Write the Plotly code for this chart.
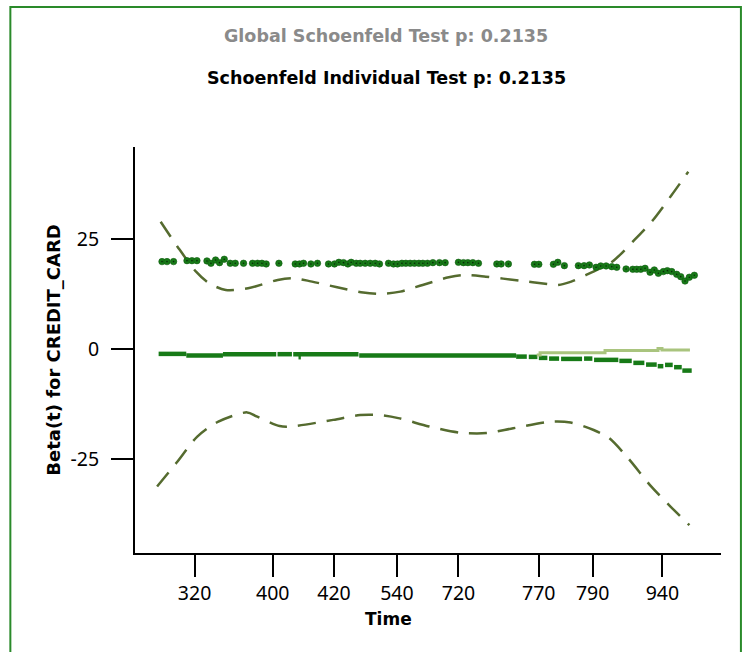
import plotly.graph_objects as go

# Transformed time scale (0-100) and the event times labelled along it
tick_pos = [10.17, 23.5, 33.96, 44.7, 55.2, 68.9, 78.1, 90.0]
tick_labels = ["320", "400", "420", "540", "720", "770", "790", "940"]

# Scaled Schoenfeld residuals for CREDIT_CARD
resid_t = [4.61, 5.46, 6.58, 8.87, 9.72, 10.57, 12.28, 12.96, 13.75, 14.43,
           15.23, 16.25, 17.11, 18.52, 20.06, 20.91, 21.66, 22.39, 24.56, 27.34,
           28.07, 28.76, 30.02, 31.14, 33.02, 34.04, 34.79, 35.58, 36.33, 36.89,
           37.75, 38.43, 39.28, 40.14, 40.99, 41.72, 43.26, 44.11, 44.79, 45.54,
           46.22, 46.96, 47.69, 48.44, 49.12, 49.91, 50.83, 51.95, 52.93, 55.19,
           56.05, 56.80, 57.65, 58.61, 61.74, 62.48, 63.72, 68.16, 68.91, 71.40,
           72.15, 73.27, 75.66, 76.63, 77.54, 78.68, 79.48, 80.39, 81.36, 82.21,
           83.80, 84.94, 85.62, 86.31, 87.04, 87.89, 88.62, 89.31, 90.16, 90.84,
           91.59, 92.44, 93.13, 93.86, 94.59, 95.45]
resid_beta = [19.80, 19.80, 19.80, 20.02, 20.02, 20.02, 19.95, 19.42, 20.17, 19.57,
              20.33, 19.42, 19.42, 19.42, 19.42, 19.42, 19.42, 19.27, 19.42, 19.27,
              19.27, 19.42, 19.27, 19.42, 19.27, 19.27, 19.64, 19.57, 19.27, 19.64,
              19.42, 19.42, 19.42, 19.42, 19.42, 19.27, 19.42, 19.27, 19.27, 19.42,
              19.42, 19.42, 19.42, 19.42, 19.42, 19.42, 19.57, 19.57, 19.57, 19.64,
              19.57, 19.57, 19.57, 19.42, 19.27, 19.27, 19.27, 19.19, 19.19, 19.19,
              19.64, 18.89, 18.89, 18.89, 19.04, 18.51, 18.82, 18.82, 18.66, 18.51,
              18.13, 18.06, 18.06, 18.06, 18.28, 17.38, 17.91, 17.15, 17.53, 17.75,
              17.53, 16.92, 16.39, 15.41, 16.25, 16.70]

# Upper and lower confidence bands of the smoothed beta(t)
upper_t = [4.38, 7.25, 10.42, 12.64, 15.49, 19.29, 24.36, 26.90, 29.44, 34.50,
           38.94, 42.11, 45.28, 49.09, 53.54, 56.06, 59.87, 65.58, 70.65, 72.23,
           74.45, 76.99, 81.43, 85.23, 88.40, 91.58, 94.42]
upper_beta = [28.85, 23.19, 17.52, 14.89, 13.37, 13.75, 15.64, 16.02, 15.49, 13.98,
              12.77, 12.47, 12.99, 14.51, 16.25, 16.77, 16.39, 15.49, 14.66, 14.51,
              15.27, 16.77, 19.79, 24.71, 29.24, 34.91, 40.19]
lower_t = [3.77, 7.04, 10.63, 14.22, 19.14, 20.76, 24.68, 26.64, 33.82, 38.41,
           41.67, 44.94, 50.18, 55.40, 59.97, 64.54, 71.09, 74.35, 78.27, 80.88,
           84.15, 88.08, 91.34, 94.61]
lower_beta = [-31.2, -25.9, -19.9, -16.5, -14.4, -15.3, -17.5, -17.6, -16.1, -15.0,
              -15.0, -15.7, -17.6, -19.0, -19.1, -18.0, -16.5, -16.7, -18.4, -20.2,
              -24.8, -31.2, -35.7, -40.0]

# Fitted beta(t), as piecewise-constant segments
fit_start = [4.03, 8.75, 15.01, 24.32, 27.00, 27.90, 38.26, 65.04, 67.20, 68.91,
             70.66, 72.71, 76.63, 78.34, 82.65, 85.04, 87.21, 89.20, 90.45, 91.99,
             93.40]
fit_end = [8.75, 15.01, 24.10, 26.78, 38.14, 28.30, 65.04, 66.86, 68.67, 70.37,
           72.37, 76.29, 78.05, 82.48, 84.77, 86.92, 89.03, 90.16, 91.76, 93.30,
           95.00]
fit_beta = [-1.13, -1.52, -1.20, -1.20, -1.20, -1.88, -1.52, -1.75, -1.81, -2.04,
            -2.20, -2.27, -2.20, -2.49, -2.72, -3.17, -3.56, -3.92, -3.63, -4.15,
            -4.92]

# Alternative estimate over late follow-up (step function)
alt_t = [68.56, 69.13, 80.21, 89.25, 89.93, 94.70]
alt_beta = [-1.36, -0.90, -0.39, 0.07, -0.23, -0.23]

FONT = "Noto Sans"
BOLD_FONT = "DejaVu Sans"
BAND = "#556b2f"
GREEN = "#177a17"

fig = go.Figure()

for t, b in ((upper_t, upper_beta), (lower_t, lower_beta)):
    fig.add_trace(go.Scatter(
        x=t, y=b, mode="lines",
        line=dict(color=BAND, width=2.5, dash="18px,11px", shape="spline", smoothing=0.8),
        hoverinfo="skip", showlegend=False))

seg_x, seg_y = [], []
for s, e, v in zip(fit_start, fit_end, fit_beta):
    seg_x += [s, e, None]
    seg_y += [v, v, None]
fig.add_trace(go.Scatter(x=seg_x, y=seg_y, mode="lines",
                         line=dict(color=GREEN, width=4.5),
                         showlegend=False))

fig.add_trace(go.Scatter(x=alt_t, y=alt_beta, mode="lines",
                         line=dict(color="#a9c47e", width=3, shape="hv"),
                         showlegend=False))

fig.add_trace(go.Scatter(x=resid_t, y=resid_beta, mode="markers",
                         marker=dict(color=GREEN, size=6.5,
                                     line=dict(color="#0f5c0f", width=0.6)),
                         showlegend=False))
fig.add_trace(go.Scatter(x=resid_t, y=resid_beta, mode="markers",
                         marker=dict(color="#0a2a0a", size=1.6),
                         hoverinfo="skip", showlegend=False))

axis_common = dict(
    showline=True, linecolor="black", linewidth=2,
    ticks="outside", ticklen=22, tickwidth=1.5, tickcolor="black",
    showgrid=False, zeroline=False,
    tickfont=dict(family=FONT, size=19.5, color="black"),
)

fig.update_layout(
    width=751, height=652,
    margin=dict(l=135, r=30, t=147, b=99),
    paper_bgcolor="white", plot_bgcolor="white",
    font=dict(family=FONT, color="black"),
    xaxis=dict(axis_common, range=[0, 100], tickmode="array",
               tickvals=tick_pos, ticktext=tick_labels),
    yaxis=dict(axis_common, range=[-46.3, 45.8], tickmode="array",
               tickvals=[-25, 0, 25], ticktext=["-25", "0", "25"],
               ticklabelstandoff=8,
               title=dict(text="<b>Beta(t) for CREDIT_CARD</b>",
                          font=dict(family=BOLD_FONT, size=18), standoff=5)),
    annotations=[
        dict(text="<b>Global Schoenfeld Test p: 0.2135</b>", xref="paper", yref="paper",
             x=0.429, y=1.273, xanchor="center", yanchor="middle", showarrow=False,
             font=dict(family=BOLD_FONT, size=17.5, color="#8a8a8a")),
        dict(text="<b>Schoenfeld Individual Test p: 0.2135</b>", xref="paper", yref="paper",
             x=0.429, y=1.170, xanchor="center", yanchor="middle", showarrow=False,
             font=dict(family=BOLD_FONT, size=17.5, color="black")),
        dict(text="<b>Time</b>", xref="paper", yref="paper",
             x=0.432, y=-0.1617, xanchor="center", yanchor="middle", showarrow=False,
             font=dict(family=BOLD_FONT, size=17, color="black")),
    ],
    shapes=[dict(type="rect", xref="paper", yref="paper",
                 x0=-0.2127, x1=1.034, y0=-0.27, y1=1.345,
                 line=dict(color="#2a8a2a", width=2), fillcolor="rgba(0,0,0,0)",
                 layer="below")],
)

fig.write_html("out.html")
